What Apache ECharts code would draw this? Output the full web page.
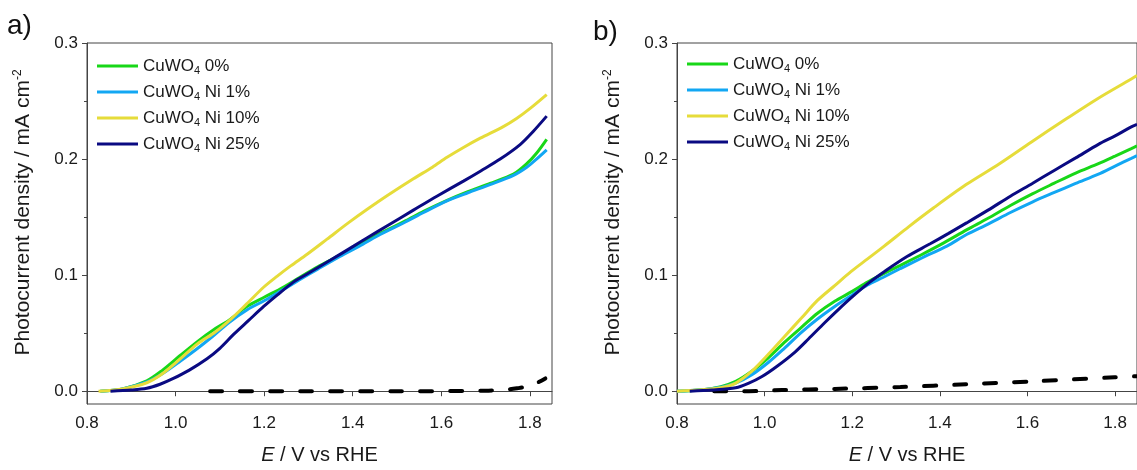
<!DOCTYPE html>
<html>
<head>
<meta charset="utf-8">
<script src="https://cdn.jsdelivr.net/npm/echarts@6/dist/echarts.min.js"></script>
<style>
  html, body { margin: 0; padding: 0; background: #fff; }
  #main { width: 1137px; height: 470px; }
</style>
</head>
<body>
<div id="main"></div>
<script>
// 图例名称
var names = ['CuWO4 0%', 'CuWO4 Ni 1%', 'CuWO4 Ni 10%', 'CuWO4 Ni 25%'];
var colors = ['#18d718', '#12a7f3', '#e6dc3a', '#0a0a82'];

var xTicks = [0.8, 1.0, 1.2, 1.4, 1.6, 1.8];
var yTicks = [0, 0.1, 0.2, 0.3];
var yMinorTicks = [0.05, 0.15, 0.25];

// a) [E, j]
var a0 = [[0.83, 0], [0.88, 0.002], [0.935, 0.009], [0.97, 0.018], [1.011, 0.031], [1.05, 0.043], [1.086, 0.053], [1.12, 0.061], [1.161, 0.073], [1.2, 0.081], [1.236, 0.088], [1.28, 0.098], [1.32, 0.107], [1.37, 0.117], [1.42, 0.127], [1.462, 0.136], [1.52, 0.147], [1.56, 0.155], [1.613, 0.1645], [1.66, 0.172], [1.71, 0.179], [1.763, 0.187], [1.793, 0.196], [1.815, 0.205], [1.838, 0.217]];
var a1 = [[0.83, 0], [0.88, 0.002], [0.935, 0.008], [0.97, 0.015], [1.011, 0.026], [1.05, 0.037], [1.086, 0.048], [1.12, 0.059], [1.161, 0.07], [1.2, 0.078], [1.236, 0.086], [1.28, 0.096], [1.32, 0.105], [1.37, 0.116], [1.42, 0.126], [1.462, 0.135], [1.52, 0.146], [1.56, 0.154], [1.613, 0.164], [1.66, 0.171], [1.71, 0.178], [1.763, 0.186], [1.793, 0.193], [1.815, 0.2], [1.838, 0.208]];
var a2 = [[0.826, 0], [0.88, 0.002], [0.935, 0.0073], [0.97, 0.015], [1.011, 0.028], [1.05, 0.041], [1.086, 0.05], [1.116, 0.059], [1.16, 0.075], [1.2, 0.09], [1.229, 0.099], [1.26, 0.108], [1.297, 0.118], [1.342, 0.131], [1.39, 0.145], [1.432, 0.1565], [1.48, 0.169], [1.537, 0.183], [1.58, 0.193], [1.613, 0.2015], [1.65, 0.21], [1.688, 0.218], [1.74, 0.228], [1.77, 0.235], [1.8, 0.2435], [1.838, 0.2556]];
var a3 = [[0.853, 0], [0.9, 0.001], [0.935, 0.0025], [0.965, 0.006], [0.995, 0.011], [1.03, 0.018], [1.071, 0.028], [1.1, 0.037], [1.131, 0.049], [1.165, 0.061], [1.199, 0.073], [1.23, 0.083], [1.266, 0.094], [1.297, 0.101], [1.35, 0.113], [1.402, 0.125], [1.432, 0.132], [1.48, 0.143], [1.537, 0.156], [1.59, 0.168], [1.65, 0.181], [1.69, 0.19], [1.733, 0.2], [1.778, 0.2125], [1.808, 0.224], [1.838, 0.237]];
var aDark = [[1.078, 0], [1.3, 0], [1.5, 0], [1.7, 0.0005], [1.75, 0.0015], [1.771, 0.0025], [1.793, 0.004], [1.815, 0.007], [1.835, 0.011]];

// b)
var b0 = [[0.8, 0], [0.85, 0.001], [0.9, 0.004], [0.934, 0.0085], [0.97, 0.017], [1.009, 0.029], [1.045, 0.042], [1.084, 0.055], [1.12, 0.067], [1.16, 0.0775], [1.2, 0.086], [1.235, 0.094], [1.265, 0.1], [1.31, 0.1085], [1.36, 0.118], [1.41, 0.128], [1.461, 0.139], [1.51, 0.149], [1.561, 0.16], [1.611, 0.17], [1.66, 0.179], [1.71, 0.188], [1.762, 0.196], [1.8, 0.2025], [1.837, 0.209], [1.85, 0.2115]];
var b1 = [[0.8, 0], [0.85, 0.001], [0.9, 0.0035], [0.934, 0.007], [0.97, 0.014], [1.009, 0.025], [1.045, 0.037], [1.084, 0.0507], [1.12, 0.062], [1.16, 0.073], [1.2, 0.083], [1.235, 0.0915], [1.27, 0.098], [1.31, 0.1057], [1.36, 0.115], [1.416, 0.125], [1.461, 0.135], [1.51, 0.144], [1.561, 0.154], [1.611, 0.163], [1.66, 0.171], [1.71, 0.179], [1.762, 0.187], [1.8, 0.194], [1.837, 0.2006], [1.85, 0.203]];
var b2 = [[0.8, 0], [0.85, 0.001], [0.9, 0.003], [0.934, 0.007], [0.97, 0.017], [1.009, 0.032], [1.045, 0.047], [1.084, 0.063], [1.12, 0.078], [1.16, 0.091], [1.197, 0.103], [1.235, 0.114], [1.273, 0.125], [1.33, 0.142], [1.386, 0.158], [1.46, 0.178], [1.536, 0.196], [1.61, 0.215], [1.686, 0.234], [1.76, 0.252], [1.837, 0.269], [1.85, 0.272]];
var b3 = [[0.829, 0], [0.88, 0.001], [0.934, 0.003], [0.964, 0.007], [0.994, 0.0127], [1.03, 0.022], [1.07, 0.034], [1.1, 0.045], [1.137, 0.059], [1.17, 0.071], [1.205, 0.083], [1.24, 0.094], [1.273, 0.103], [1.325, 0.116], [1.378, 0.127], [1.42, 0.136], [1.461, 0.145], [1.51, 0.156], [1.561, 0.168], [1.611, 0.179], [1.66, 0.19], [1.71, 0.201], [1.762, 0.2127], [1.8, 0.22], [1.837, 0.2277], [1.85, 0.23]];
var bDark = [[0.885, 0], [0.964, 0], [1.04, 0.001], [1.16, 0.002], [1.31, 0.0036], [1.461, 0.006], [1.611, 0.0085], [1.799, 0.012], [1.85, 0.013]];

var font = 'Liberation Sans, Arial, sans-serif';
var axisColor = '#444';
var textColor = '#1a1a1a';

var myChart = echarts.init(document.getElementById('main'));

function makeX(gridIndex) {
    return {
        type: 'value', gridIndex: gridIndex, min: 0.8, max: 1.85,
        name: '{i|E} / V vs RHE', nameLocation: 'middle', nameGap: 41,
        nameTextStyle: {
            fontFamily: font, fontSize: 20, color: textColor,
            rich: { i: { fontFamily: font, fontSize: 20, fontStyle: 'italic', color: textColor } }
        },
        axisLine: { show: true, lineStyle: { color: axisColor, width: 1 } },
        axisTick: { show: true, inside: false, length: 5, customValues: xTicks, lineStyle: { color: axisColor } },
        axisLabel: {
            customValues: xTicks, margin: 11, fontFamily: font, fontSize: 17, color: textColor,
            formatter: function(v) { return v.toFixed(1); }
        },
        splitLine: { show: false }
    };
}

function makeY(gridIndex) {
    return {
        type: 'value', gridIndex: gridIndex, position: 'left', min: -0.011, max: 0.3,
        name: 'Photocurrent density / mA cm{sup|-2}', nameLocation: 'middle', nameGap: 53, nameRotate: 90,
        nameTextStyle: {
            fontFamily: font, fontSize: 21, color: textColor, lineHeight: 22, padding: [0, 0, 0, 22],
            rich: { sup: { fontFamily: font, fontSize: 12, color: textColor, lineHeight: 12, verticalAlign: 'top' } }
        },
        axisLine: { show: true, lineStyle: { color: axisColor, width: 1 } },
        axisTick: { show: true, inside: false, length: 5, customValues: yTicks, lineStyle: { color: axisColor } },
        axisLabel: {
            customValues: yTicks, margin: 9, fontFamily: font, fontSize: 17, color: textColor,
            formatter: function(v) { return v.toFixed(1); }
        },
        splitLine: { show: false }
    };
}

function makeYMinor(gridIndex) {
    return {
        type: 'value', gridIndex: gridIndex, position: 'left', min: -0.011, max: 0.3,
        axisLine: { show: false },
        axisTick: { show: true, inside: false, length: 3, customValues: yMinorTicks, lineStyle: { color: axisColor } },
        axisLabel: { show: false },
        splitLine: { show: false }
    };
}

function makeSeries(name, data, color, axisIndex) {
    return {
        name: name, type: 'line', data: data, xAxisIndex: axisIndex, yAxisIndex: axisIndex * 2,
        showSymbol: false, smooth: 0.3, clip: true,
        lineStyle: { color: color, width: 3 },
        itemStyle: { color: color },
        z: 3
    };
}

function makeDark(data, axisIndex) {
    return {
        name: 'dark', type: 'line', data: data, xAxisIndex: axisIndex, yAxisIndex: axisIndex * 2,
        showSymbol: false, smooth: 0.3,
        lineStyle: { color: '#000', width: 4, type: [12, 18], cap: 'round' },
        z: 2
    };
}

function makeLegend(left, top) {
    return {
        orient: 'vertical', left: left, top: top, itemWidth: 41, itemHeight: 3, itemGap: 6,
        icon: 'rect', data: names,
        textStyle: {
            fontFamily: font, fontSize: 17, color: textColor, lineHeight: 20,
            rich: { sub: { fontFamily: font, fontSize: 11, color: textColor, lineHeight: 10, verticalAlign: 'bottom' } }
        },
        formatter: function(name) { return name.replace('CuWO4', 'CuWO{sub|4}'); }
    };
}

option = {
    animation: false,
    grid: [
        { left: 87, top: 43, width: 465, height: 368, show: true, borderColor: axisColor, borderWidth: 1, containLabel: false },
        { left: 677, top: 43, width: 465, height: 368, show: true, borderColor: axisColor, borderWidth: 1, containLabel: false }
    ],
    legend: [makeLegend(92, 51), makeLegend(682, 49)],
    xAxis: [makeX(0), makeX(1)],
    yAxis: [makeY(0), makeYMinor(0), makeY(1), makeYMinor(1)],
    graphic: [
        { type: 'text', left: 7, top: 12, style: { text: 'a)', fontFamily: font, fontSize: 28, fill: '#111' } },
        { type: 'text', left: 593, top: 18, style: { text: 'b)', fontFamily: font, fontSize: 28, fill: '#111' } }
    ],
    series: [
        makeDark(aDark, 0),
        makeSeries(names[0], a0, colors[0], 0),
        makeSeries(names[1], a1, colors[1], 0),
        makeSeries(names[2], a2, colors[2], 0),
        makeSeries(names[3], a3, colors[3], 0),
        makeDark(bDark, 1),
        makeSeries(names[0], b0, colors[0], 1),
        makeSeries(names[1], b1, colors[1], 1),
        makeSeries(names[2], b2, colors[2], 1),
        makeSeries(names[3], b3, colors[3], 1)
    ]
};

myChart.setOption(option);
</script>
</body>
</html>
